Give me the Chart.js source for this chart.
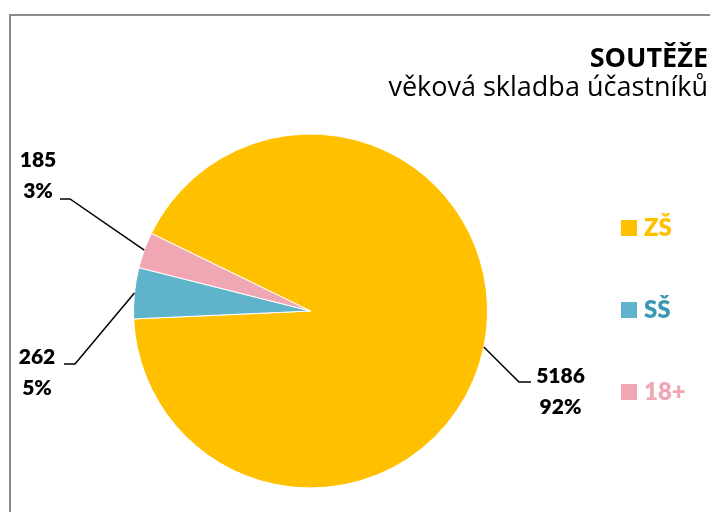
<!DOCTYPE html>
<html>
<head>
<meta charset="utf-8">
<script src="https://cdn.jsdelivr.net/npm/chart.js@4/dist/chart.umd.min.js"></script>
<style>
  html, body { margin: 0; padding: 0; background: #fff; }
  canvas { display: block; }
</style>
</head>
<body>
<canvas id="c" width="710" height="512"></canvas>
<script>
const categories = ['ZŠ', 'SŠ', '18+'];
const counts = [5186, 262, 185];
const sliceColors = ['#FFC000', '#5FB4CC', '#F0A7B3'];
const legendTextColors = ['#FFC000', '#3C97B2', '#F0A7B3'];
const titleText = 'SOUTĚŽE';
const subtitleText = 'věková skladba účastníků';

// label / leader-line layout (annotation positions, not data)
const labelLayout = [
  { tx: 560.5, ty: 382.5, elbow: [519, 382], end: [531, 382] },
  { tx: 37,    ty: 363.5, elbow: [75, 364],  end: [64, 364] },
  { tx: 38,    ty: 166.5, elbow: [70, 199],  end: [60, 199] }
];

const decor = {
  id: 'decor',
  beforeDraw(chart) {
    const ctx = chart.ctx;
    ctx.save();
    ctx.strokeStyle = '#8c8c8c';
    ctx.lineWidth = 2;
    ctx.beginPath();
    ctx.moveTo(10, 520);
    ctx.lineTo(10, 15);
    ctx.lineTo(720, 15);
    ctx.stroke();
    ctx.restore();
  },
  afterDraw(chart) {
    const ctx = chart.ctx;
    const meta = chart.getDatasetMeta(0);
    const values = chart.data.datasets[0].data;
    const total = values.reduce((a, b) => a + b, 0);
    ctx.save();
    // title
    ctx.fillStyle = '#000';
    ctx.textAlign = 'right';
    ctx.textBaseline = 'alphabetic';
    ctx.font = 'bold 27px "Open Sans"';
    ctx.fillText(titleText, 708, 67);
    ctx.font = '27px "Open Sans"';
    ctx.fillText(subtitleText, 708, 96);

    // leader lines and labels
    meta.data.forEach((arc, i) => {
      const p = arc.getProps(['x', 'y', 'startAngle', 'endAngle', 'outerRadius'], true);
      const mid = (p.startAngle + p.endAngle) / 2;
      const sx = p.x + Math.cos(mid) * p.outerRadius;
      const sy = p.y + Math.sin(mid) * p.outerRadius;
      const L = labelLayout[i];
      ctx.strokeStyle = '#000';
      ctx.lineWidth = 1.5;
      ctx.beginPath();
      ctx.moveTo(sx, sy);
      ctx.lineTo(L.elbow[0], L.elbow[1]);
      ctx.lineTo(L.end[0], L.end[1]);
      ctx.stroke();
      ctx.fillStyle = '#000';
      ctx.textAlign = 'center';
      ctx.font = '800 21px Lato';
      ctx.fillText(String(values[i]), L.tx, L.ty);
      ctx.fillText(Math.round(values[i] / total * 100) + '%', L.tx, L.ty + 31);
    });

    // legend
    categories.forEach((c, i) => {
      const base = 236 + i * 82;
      ctx.fillStyle = sliceColors[i];
      ctx.fillRect(621, base - 16, 16, 16);
      ctx.fillStyle = legendTextColors[i];
      ctx.textAlign = 'left';
      ctx.font = '800 24px Lato';
      ctx.fillText(c, 644, base);
    });
    ctx.restore();
  }
};

new Chart(document.getElementById('c'), {
  type: 'pie',
  data: {
    labels: categories,
    datasets: [{
      data: counts,
      backgroundColor: sliceColors,
      borderColor: '#ffffff',
      borderWidth: 1
    }]
  },
  options: {
    responsive: false,
    devicePixelRatio: 1,
    animation: false,
    rotation: 296,
    layout: { padding: { left: 133, right: 222, top: 133.5, bottom: 23.5 } },
    plugins: {
      legend: { display: false },
      tooltip: { enabled: false },
      title: { display: false }
    }
  },
  plugins: [decor]
});
</script>
</body>
</html>
